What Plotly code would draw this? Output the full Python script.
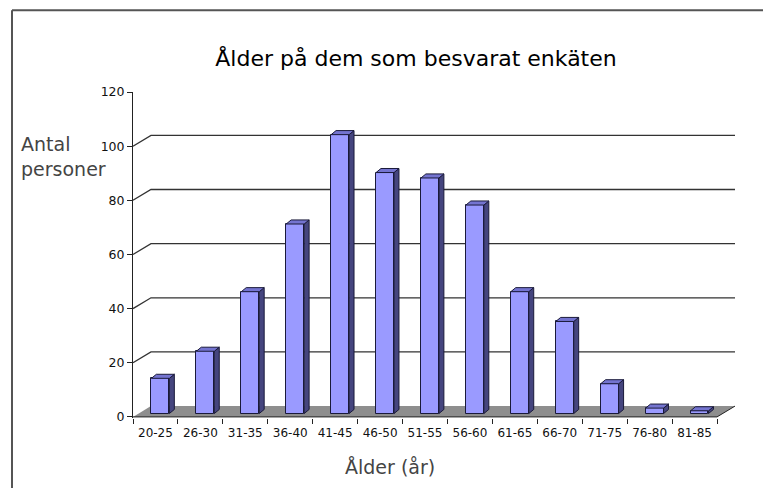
import plotly.graph_objects as go

# ---- data ----
age_groups = ["20-25", "26-30", "31-35", "36-40", "41-45", "46-50", "51-55",
              "56-60", "61-65", "66-70", "71-75", "76-80", "81-85"]
persons = [13, 23, 45, 70, 103, 89, 87, 77, 45, 34, 11, 2, 1]
y_ticks = [0, 20, 40, 60, 80, 100, 120]
grid_values = [20, 40, 60, 80, 100]

title_text = "Ålder på dem som besvarat enkäten"
y_title = "Antal<br>personer"
x_title = "Ålder (år)"

# ---- pseudo-3D geometry (in axis units) ----
FLOOR_DX, FLOOR_DY = 0.4, 4.0      # depth of floor / back wall
BAR_W, BAR_SHIFT = 0.4, 0.11        # bar front width and shift into depth
BAR_BASE = 1.25                     # front face bottom sits slightly into the floor
BAR_DX, BAR_DY = 0.11, 1.5          # bar depth

idx = list(range(len(age_groups)))
x0, x1 = -0.5, len(age_groups) - 0.5

FONT = "DejaVu Sans"

fig = go.Figure()

# side faces and top faces of bars, computed from data
side_x, side_y, top_x, top_y = [], [], [], []
for i, v in zip(idx, persons):
    left = i + BAR_SHIFT - BAR_W / 2
    right = i + BAR_SHIFT + BAR_W / 2
    bot = BAR_BASE
    top = BAR_BASE + v
    side_x += [right, right, right + BAR_DX, right + BAR_DX, right, None]
    side_y += [bot, top, top + BAR_DY, bot + BAR_DY, bot, None]
    top_x += [left, right, right + BAR_DX, left + BAR_DX, left, None]
    top_y += [top, top, top + BAR_DY, top + BAR_DY, top, None]

fig.add_trace(go.Bar(
    x=idx, y=persons, base=BAR_BASE, width=BAR_W, offset=BAR_SHIFT - BAR_W / 2,
    marker=dict(color="#9a9aff", line=dict(color="#1a1a3a", width=1)),
    showlegend=False, hoverinfo="skip"))

fig.add_trace(go.Scatter(
    x=side_x, y=side_y, mode="lines", fill="toself", fillcolor="#45457e",
    line=dict(color="#1a1a3a", width=1), showlegend=False, hoverinfo="skip"))
fig.add_trace(go.Scatter(
    x=top_x, y=top_y, mode="lines", fill="toself", fillcolor="#7474d0",
    line=dict(color="#1a1a3a", width=1), showlegend=False, hoverinfo="skip"))

shapes = []
# back-wall gridlines
for g in grid_values:
    shapes.append(dict(
        type="path", xref="x", yref="y", layer="below",
        path=f"M {x0},{g} L {x0 + FLOOR_DX},{g + FLOOR_DY} L {x1 + FLOOR_DX},{g + FLOOR_DY}",
        line=dict(color="#333333", width=1.3)))
# floor
shapes.append(dict(
    type="path", xref="x", yref="y", layer="below",
    path=f"M {x0},0 L {x1},0 L {x1 + FLOOR_DX},{FLOOR_DY} L {x0 + FLOOR_DX},{FLOOR_DY} Z",
    fillcolor="#8e8e8e", line=dict(width=0)))
# floor front edge and right edge
shapes.append(dict(
    type="path", xref="x", yref="y", layer="above",
    path=f"M {x0},0 L {x1},0 L {x1 + FLOOR_DX},{FLOOR_DY}",
    line=dict(color="#222222", width=1)))
# outer chart frame: left edge and top edge
shapes.append(dict(
    type="line", xref="paper", yref="paper",
    x0=-0.201, x1=-0.201, y0=-0.215, y1=1.251,
    line=dict(color="#555555", width=2), layer="above"))
shapes.append(dict(
    type="line", xref="paper", yref="paper",
    x0=-0.201, x1=1.05, y0=1.251, y1=1.251,
    line=dict(color="#555555", width=2), layer="above"))

fig.update_layout(
    width=763, height=488,
    margin=dict(l=133, r=28, t=92, b=70, pad=0),
    paper_bgcolor="white", plot_bgcolor="white",
    font=dict(family=FONT, color="#111111"),
    title=dict(text=title_text, x=416 / 763, xref="container", xanchor="center",
               y=1 - 58 / 488, yref="container", yanchor="middle",
               font=dict(family=FONT, size=22, color="#000000")),
    shapes=shapes,
    bargap=0,
    showlegend=False,
    annotations=[
        dict(text=y_title, xref="paper", yref="paper", x=-0.189, y=0.801,
             xanchor="left", yanchor="middle", align="left", showarrow=False,
             font=dict(family=FONT, size=19, color="#444444")),
        dict(text=x_title, xref="paper", yref="paper", x=0.427, y=-0.151,
             xanchor="center", yanchor="middle", showarrow=False,
             font=dict(family=FONT, size=19, color="#444444")),
    ],
)

fig.update_xaxes(
    type="linear", range=[x0, x1 + FLOOR_DX],
    tickmode="array", tickvals=idx, ticktext=age_groups,
    ticks="", showline=False, showgrid=False, zeroline=False,
    ticklabelstandoff=6,
    tickfont=dict(family=FONT, size=12, color="#111111"),
    minor=dict(tickmode="array", tickvals=[i - 0.5 for i in range(len(age_groups) + 1)],
               ticks="outside", ticklen=5, tickcolor="#222222", tickwidth=1, showgrid=False),
)
fig.update_yaxes(
    range=[-0.4, 120], tickmode="array", tickvals=y_ticks,
    ticks="outside", ticklen=5, tickcolor="#222222",
    showline=True, linecolor="#222222", linewidth=1,
    showgrid=False, zeroline=False,
    tickfont=dict(family=FONT, size=12.5, color="#111111"),
)

fig.write_html("out.html",
               config={"displayModeBar": False},
               post_script="document.body.style.margin='0';document.body.style.overflow='hidden';")
